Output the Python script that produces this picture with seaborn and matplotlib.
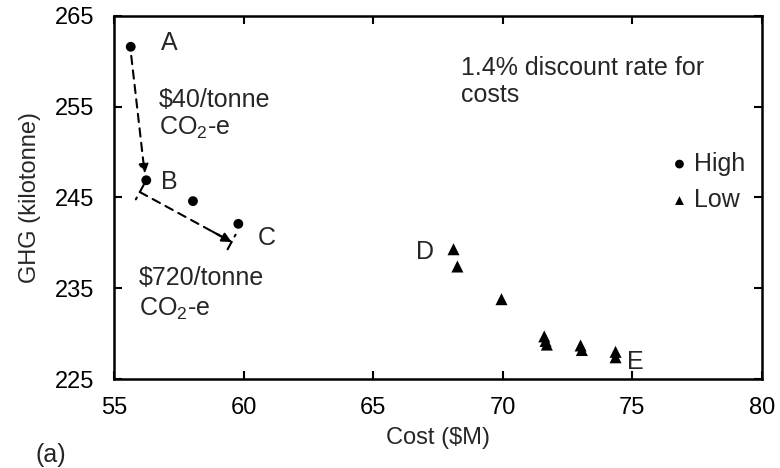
import seaborn as sns
import pandas as pd
import matplotlib.pyplot as plt

# values
high_cost = [55.65, 56.25, 58.05, 59.8]
high_ghg = [261.6, 246.9, 244.6, 242.1]
low_cost = [68.1, 68.25, 69.95, 71.6, 71.65, 71.7, 73.0, 73.05, 74.35, 74.35]
low_ghg = [239.3, 237.4, 233.8, 229.7, 229.2, 228.8, 228.7, 228.2, 228.0, 227.4]

point_labels = ['A', 'B', 'C', 'D', 'E']
label_x = [57.15, 57.15, 60.9, 67.0, 75.1]
label_y = [262.0, 246.7, 240.5, 239.0, 226.9]

x_ticks = [55, 60, 65, 70, 75, 80]
y_ticks = [225, 235, 245, 255, 265]


def main():
    sns.set_theme(style='ticks')
    plt.rcParams['font.family'] = ['Liberation Sans', 'DejaVu Sans']
    plt.rcParams['mathtext.default'] = 'regular'

    high = pd.DataFrame({'Cost': high_cost, 'GHG': high_ghg})
    low = pd.DataFrame({'Cost': low_cost, 'GHG': low_ghg})

    fig = plt.figure(figsize=(7.8, 4.68), dpi=100)
    ax = fig.add_axes([0.146, 0.19, 0.831, 0.776])

    sns.scatterplot(data=high, x='Cost', y='GHG', marker='o', color='black',
                    s=50, edgecolor='none', label='High', ax=ax)
    sns.scatterplot(data=low, x='Cost', y='GHG', marker='^', color='black',
                    s=75, edgecolor='none', label='Low', ax=ax)

    ax.set_xlim(55, 80)
    ax.set_ylim(225, 265)
    ax.set_xticks(x_ticks)
    ax.set_yticks(y_ticks)
    ax.tick_params(direction='in', length=6, width=1.5, labelsize=17,
                   top=True, right=True, colors='black')
    ax.tick_params(axis='x', pad=13)
    ax.tick_params(axis='y', pad=14)
    for side in ax.spines.values():
        side.set_linewidth(1.8)
        side.set_color('black')
    ax.set_xlabel('Cost ($M)', fontsize=17, labelpad=6)
    ax.set_ylabel('GHG (kilotonne)', fontsize=17, labelpad=10)

    for name, lx, ly in zip(point_labels, label_x, label_y):
        ax.text(lx, ly, name, fontsize=18, ha='center', va='center')

    ax.text(56.73, 254.1, '$40/tonne\nCO$_2$-e', fontsize=18, va='center',
            linespacing=1.15)
    ax.text(55.96, 234.4, '$720/tonne\nCO$_2$-e', fontsize=18, va='center',
            linespacing=1.3)
    ax.text(68.38, 257.8, '1.4% discount rate for\ncosts', fontsize=18,
            va='center', linespacing=1.15)

    # dashed arrows between the labelled points
    ax.annotate('', xy=(56.19, 247.6), xytext=(55.67, 260.6),
                arrowprops=dict(arrowstyle='-|>', linestyle=(0, (4, 3)),
                                lw=1.5, color='black', mutation_scale=14,
                                shrinkA=0, shrinkB=0))
    ax.annotate('', xy=(59.54, 240.1), xytext=(56.0, 245.6),
                arrowprops=dict(arrowstyle='|-|, widthA=0.5, widthB=0.5',
                                linestyle=(0, (4, 3)), lw=1.5, color='black',
                                shrinkA=0, shrinkB=0))
    ax.annotate('', xy=(59.54, 240.1), xytext=(58.8, 241.25),
                arrowprops=dict(arrowstyle='-|>', lw=1.5, color='black',
                                mutation_scale=14, shrinkA=0, shrinkB=0))

    leg = ax.legend(frameon=False, loc='center left',
                    bbox_to_anchor=(0.834, 0.543), fontsize=18,
                    handletextpad=0.0, labelspacing=0.5, handlelength=1.2,
                    borderaxespad=0)
    for h in leg.legend_handles:
        h.set_sizes([40])

    fig.text(0.045, 0.028, '(a)', fontsize=18, va='center')
    fig.savefig('out.png', dpi=100)


if __name__ == '__main__':
    main()
